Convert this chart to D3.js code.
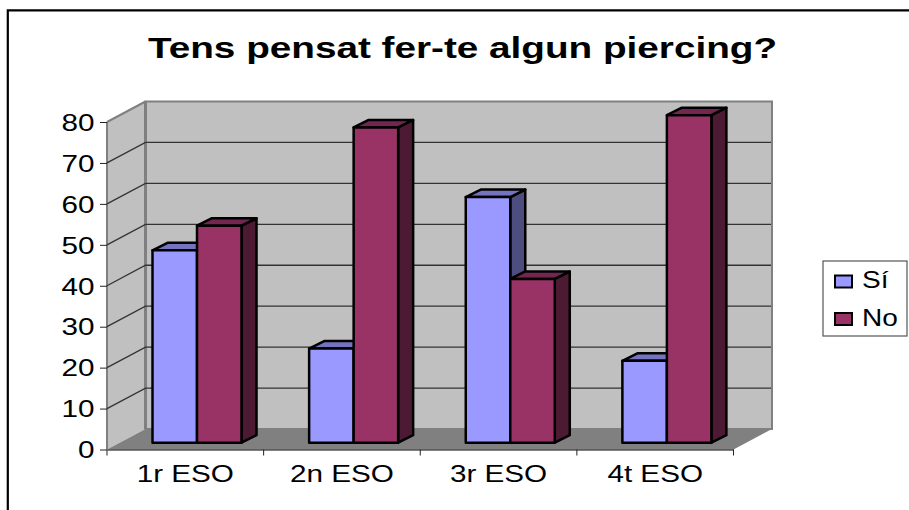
<!DOCTYPE html>
<html><head><meta charset="utf-8">
<script src="https://cdn.jsdelivr.net/npm/d3@7"></script>
<style>html,body{margin:0;padding:0;background:#fff}svg{display:block}text{font-family:"Liberation Sans",Arial,sans-serif;fill:#000}</style>
</head><body><svg id="c" width="909" height="510"></svg>
<script>
const categories=["1r ESO","2n ESO","3r ESO","4t ESO"];
const seriesNames=["Sí","No"];
const siValues=[47,23,60,20];
const noValues=[53,77,40,80];
const yTicks=[0,10,20,30,40,50,60,70,80];
const colors={"Sí":["#9999ff","#7373bf","#4d4d80"],"No":["#993366","#732650","#4d1a33"]};

const svg=d3.select("#c");
const x=d3.scaleBand().domain(categories).range([107,733.5]);
const y=d3.scaleLinear().domain([0,80]).range([449.5,122]);
const depth={x:38.5,y:-20.5};
const inner=d3.scaleBand().domain(seriesNames).range([-44.5,44.5]);
const barOff={x:11.7,y:-6.8};
const barDepth={x:15,y:-7.5};
const poly=pts=>pts.map(p=>p.join(",")).join(" ");
const stretch=1.29;
const font='"Liberation Sans",Arial,sans-serif';

// frame
svg.append("path").attr("d","M7.8,512V10.3H909").attr("fill","none").attr("stroke","#000").attr("stroke-width",2.2);

// title
svg.append("text").attr("transform",`translate(462.5,58) scale(${stretch},1)`).attr("text-anchor","middle").attr("font-size",30).attr("font-weight","bold").text("Tens pensat fer-te algun piercing?");

const [x0,x1]=x.range(), yb=y(0), yt=y(80);
// walls
svg.append("polygon").attr("points",poly([[x0,yb],[x0,yt],[x0+depth.x,yt+depth.y],[x0+depth.x,yb+depth.y]])).attr("fill","#c0c0c0");
svg.append("polygon").attr("points",poly([[x0+depth.x,yb+depth.y],[x0+depth.x,yt+depth.y],[x1+depth.x,yt+depth.y],[x1+depth.x,yb+depth.y]])).attr("fill","#c0c0c0").attr("stroke","#808080").attr("stroke-width",2);
svg.append("line").attr("x1",x0+depth.x).attr("x2",x0+depth.x).attr("y1",yt+depth.y).attr("y2",yb+depth.y).attr("stroke","#808080").attr("stroke-width",3);
svg.append("polygon").attr("points",poly([[x0,yb],[x0+depth.x,yb+depth.y],[x1+depth.x,yb+depth.y],[x1,yb]])).attr("fill","#808080");
svg.append("line").attr("x1",x0).attr("x2",x0).attr("y1",yb).attr("y2",yt).attr("stroke","#808080").attr("stroke-width",2);
svg.append("line").attr("x1",x0).attr("x2",x0+depth.x).attr("y1",yt).attr("y2",yt+depth.y).attr("stroke","#808080").attr("stroke-width",2);

// gridlines
const grid=yTicks.filter(d=>d>0&&d<80);
svg.append("g").selectAll("path").data(grid).join("path")
 .attr("d",d=>`M${x0},${y(d)}L${x0+depth.x},${y(d)+depth.y}H${x1+depth.x-1}`)
 .attr("fill","none").attr("stroke","#333").attr("stroke-width",1.3);

// axes
const gy=svg.append("g").attr("transform",`translate(${x0},0)`).call(d3.axisLeft(y).tickValues(yTicks).tickSize(7).tickSizeOuter(0).tickPadding(5));
gy.select(".domain").remove();
gy.selectAll("text").attr("font-size",23).style("font-family",font)
 .attr("x",-12.5/stretch).attr("transform",`scale(${stretch},1)`).attr("dy","0.36em");
gy.selectAll("line").attr("stroke","#222");
const gx=svg.append("g").attr("transform",`translate(0,${yb})`).call(d3.axisBottom(x).tickSize(0).tickPadding(16));
gx.select(".domain").attr("stroke","#000").attr("stroke-width",1.2);
gx.selectAll("text").attr("font-size",23).style("font-family",font).attr("transform",`scale(${stretch},1)`);
svg.append("g").selectAll("line").data(categories.concat(["end"])).join("line")
 .attr("x1",d=>d==="end"?x1:x(d)).attr("x2",d=>d==="end"?x1:x(d)).attr("y1",yb).attr("y2",yb+6).attr("stroke","#222");

// bars
const rows=[];
categories.forEach((c,i)=>{rows.push({c,s:"Sí",v:siValues[i]});rows.push({c,s:"No",v:noValues[i]});});
const bar=svg.append("g").selectAll("g").data(rows).join("g");
const fx=d=>x(d.c)+x.bandwidth()/2+inner(d.s)+barOff.x;
const ybar=v=>y(v)+barOff.y;
const st=s=>s.attr("stroke","#000").attr("stroke-width",2.5).attr("stroke-linejoin","round");
bar.append("polygon").attr("fill",d=>colors[d.s][2]).call(st).attr("points",d=>{const l=fx(d)+inner.bandwidth(),t=ybar(d.v),b=ybar(0);return poly([[l,b],[l,t],[l+barDepth.x,t+barDepth.y],[l+barDepth.x,b+barDepth.y]]);});
bar.append("polygon").attr("fill",d=>colors[d.s][1]).call(st).attr("points",d=>{const l=fx(d),r=l+inner.bandwidth(),t=ybar(d.v);return poly([[l,t],[l+barDepth.x,t+barDepth.y],[r+barDepth.x,t+barDepth.y],[r,t]]);});
bar.append("polygon").attr("fill",d=>colors[d.s][0]).call(st).attr("points",d=>{const l=fx(d),r=l+inner.bandwidth(),t=ybar(d.v),b=ybar(0);return poly([[l,b],[l,t],[r,t],[r,b]]);});

// legend
const lg=svg.append("g");
lg.append("rect").attr("x",823).attr("y",261).attr("width",84).attr("height",75).attr("fill","#fff").attr("stroke","#555").attr("stroke-width",1.2);
const ly=d3.scalePoint().domain(seriesNames).range([281.5,319]);
lg.selectAll("rect.k").data(seriesNames).join("rect").attr("class","k").attr("x",835).attr("y",d=>ly(d)-6).attr("width",17).attr("height",12).attr("fill",d=>colors[d][0]).attr("stroke","#000").attr("stroke-width",2);
lg.selectAll("text").data(seriesNames).join("text").attr("transform",d=>`translate(862,${ly(d)+6.5}) scale(1.22,1)`).attr("font-size",23).text(d=>d);
</script></body></html>
